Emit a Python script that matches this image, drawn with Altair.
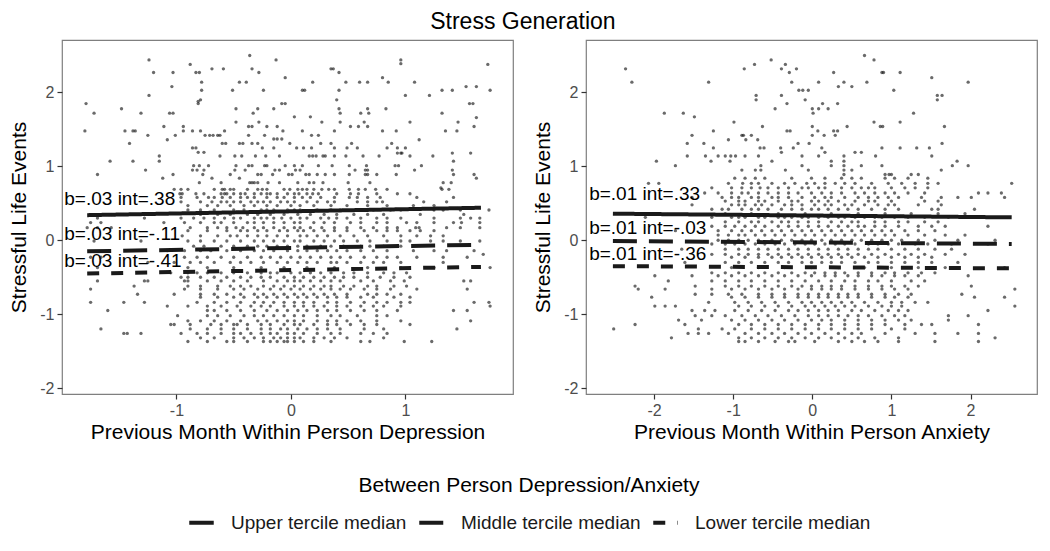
import altair as alt
import pandas as pd

FONT = "Liberation Sans"

# ---------------- Left panel: depression ----------------
# dense rows: (y level, x values)
dep_rows = [
    (0.69, [-1.02, -0.96, -0.9, -0.67, -0.6, -0.58, -0.53, -0.5, -0.38, -0.29, -0.25, -0.21, -0.06, -0.01, 0.06, 0.1, 0.14, 0.2, 0.27, 0.33, 0.38, 0.51, 0.59, 0.65, 0.74, 0.84, 1.32, 1.38]),
    (0.63, [-0.97, -0.95, -0.83, -0.76, -0.61, -0.58, -0.56, -0.5, -0.44, -0.4, -0.32, -0.26, -0.21, -0.18, -0.12, -0.03, 0.03, 0.07, 0.14, 0.19, 0.24, 0.4, 0.52, 0.59, 0.75, 0.93, 1.04]),
    (0.58, [-0.96, -0.82, -0.72, -0.67, -0.6, -0.53, -0.44, -0.38, -0.32, -0.21, -0.12, -0.06, 0.03, 0.1, 0.17, 0.26, 0.38, 0.51, 0.58, 0.67, 0.78, 1.1, 1.42]),
    (0.52, [-0.96, -0.79, -0.69, -0.61, -0.56, -0.5, -0.44, -0.35, -0.29, -0.24, -0.18, -0.09, -0.03, 0.03, 0.14, 0.23, 0.32, 0.38, 0.58, 0.67, 0.75, 0.8, 1.16, 1.36]),
    (0.47, [-0.9, -0.73, -0.64, -0.53, -0.41, -0.32, -0.21, -0.12, 0.0, 0.08, 0.2, 0.35, 0.49, 0.67, 0.84, 1.07, 1.25]),
    (0.41, [-0.9, -0.79, -0.67, -0.5, -0.41, -0.26, -0.21, -0.15, -0.03, 0.03, 0.08, 0.23, 0.35, 0.43, 0.61, 0.72, 0.87, 0.96, 1.25, 1.33, 1.48, 1.73]),
    (0.35, [-0.79, -0.64, -0.53, -0.38, -0.29, -0.18, -0.06, 0.06, 0.17, 0.29, 0.4, 0.55, 0.67, 0.81, 1.13, 1.51]),
    (0.30, [-1.69, -1.28, -0.96, -0.85, -0.76, -0.67, -0.58, -0.5, -0.44, -0.32, -0.26, -0.21, -0.15, -0.08, 0.0, 0.08, 0.14, 0.26, 0.33, 0.4, 0.49, 0.61, 0.75, 0.84, 0.96, 1.25, 1.48, 1.57, 1.65]),
    (0.24, [-1.75, -1.66, -1.11, -0.93, -0.79, -0.67, -0.61, -0.5, -0.38, -0.32, -0.24, -0.15, -0.06, 0.03, 0.08, 0.2, 0.29, 0.38, 0.52, 0.61, 0.75, 0.84, 1.01, 1.1, 1.25, 1.42, 1.49, 1.65]),
    (0.17, [-1.78, -1.69, -1.57, -0.88, -0.73, -0.64, -0.56, -0.48, -0.42, -0.32, -0.24, -0.15, -0.06, 0.03, 0.08, 0.17, 0.27, 0.38, 0.49, 0.61, 0.72, 0.84, 0.93, 1.09, 1.12, 1.36, 1.48, 1.65]),
    (0.13, [-0.9, -0.73, -0.56, -0.44, -0.38, -0.29, -0.21, -0.1, -0.03, 0.06, 0.11, 0.2, 0.29, 0.38, 0.49, 0.64, 0.75, 0.84, 0.93, 1.04, 1.13, 1.25]),
    (0.06, [-0.95, -0.79, -0.64, -0.53, -0.47, -0.38, -0.29, -0.21, -0.12, -0.03, 0.08, 0.14, 0.23, 0.32, 0.43, 0.55, 0.67, 0.81, 0.96, 1.1, 1.22, 1.33]),
    (-0.01, [-1.72, -1.31, -0.9, -0.79, -0.67, -0.56, -0.44, -0.32, -0.24, -0.15, -0.06, 0.03, 0.08, 0.2, 0.29, 0.38, 0.46, 0.58, 0.69, 0.84, 0.96, 1.04, 1.22, 1.33, 1.48, 1.65]),
    (-0.08, [-0.85, -0.76, -0.61, -0.5, -0.38, -0.29, -0.21, -0.12, -0.03, 0.06, 0.14, 0.26, 0.35, 0.46, 0.61, 0.69, 0.81, 0.96]),
    (-0.14, [-1.08, -0.93, -0.79, -0.7, -0.56, -0.44, -0.32, -0.24, -0.15, -0.03, 0.06, 0.14, 0.23, 0.32, 0.4, 0.49, 0.61, 0.72, 0.84, 1.07, 1.25, 1.36, 1.6]),
    (-0.19, [1.68]),
    (-0.23, [-1.75, -1.66, -0.93, -0.82, -0.73, -0.61, -0.5, -0.38, -0.26, -0.18, -0.09, 0.0, 0.08, 0.17, 0.26, 0.35, 0.43, 0.52, 0.64, 0.75, 0.84, 0.93, 1.1, 1.33, 1.54]),
    (-0.30, [-1.25, -1.02, -0.88, -0.79, -0.67, -0.53, -0.44, -0.35, -0.24, -0.12, -0.03, 0.06, 0.14, 0.23, 0.35, 0.4, 0.49, 0.61, 0.72, 0.81, 0.96, 1.33]),
    (-0.37, [-1.69, -0.9, -0.73, -0.5, -0.26, -0.06, 0.14, 0.38, 0.67, 0.96, 1.25, 1.74]),
    (-0.44, [-1.05, -0.9, -0.82, -0.73, -0.61, -0.5, -0.38, -0.26, -0.18, -0.12, 0.0, 0.08, 0.17, 0.26, 0.35, 0.46, 0.55, 0.67, 0.81, 0.9, 1.01]),
    (-0.50, [-0.96, -0.9, -0.79, -0.67, -0.56, -0.44, -0.35, -0.26, -0.18, -0.06, 0.03, 0.11, 0.2, 0.29, 0.38, 0.46, 0.55, 0.67, 0.78, 0.9, 1.04]),
    (-0.55, [-1.69, -1.28, -1.25, -0.93, -0.9, -0.73, -0.61, -0.5, -0.38, -0.24, -0.12, -0.03, 0.03, 0.08, 0.17, 0.26, 0.35, 0.43, 0.61, 0.72, 0.87, 0.99, 1.51, 1.57]),
    (-0.62, [-1.37, -0.9, -0.79, -0.64, -0.53, -0.44, -0.35, -0.24, -0.15, -0.06, 0.03, 0.11, 0.2, 0.29, 0.35, 0.46, 0.55, 0.67, 0.75, 0.9, 1.01]),
    (-0.66, [-1.75, -0.93, -0.79, -0.64, -0.5, -0.41, -0.29, -0.18, -0.09, 0.0, 0.08, 0.17, 0.26, 0.35, 0.43, 0.52, 0.64, 0.75, 0.87, 1.1, 1.54]),
    (-0.73, [-1.34, -1.02, -0.79, -0.67, -0.56, -0.44, -0.32, -0.24, -0.15, -0.06, 0.03, 0.11, 0.2, 0.29, 0.38, 0.49, 0.67, 0.75, 0.84, 0.96]),
    (-0.77, [-0.79, -0.64, -0.5, -0.41, -0.29, -0.21, -0.12, -0.03, 0.06, 0.14, 0.23, 0.32, 0.4, 0.49, 0.61, 0.72, 0.9, 1.04]),
    (-0.84, [-1.75, -1.46, -1.28, -0.82, -0.67, -0.56, -0.44, -0.32, -0.24, -0.15, -0.06, 0.03, 0.11, 0.2, 0.32, 0.4, 0.52, 0.64, 0.75, 0.84, 0.96, 1.04, 1.6, 1.73]),
    (-0.89, [-1.08, -0.9, -0.73, -0.61, -0.47, -0.35, -0.26, -0.18, -0.06, 0.03, 0.11, 0.2, 0.29, 0.4, 0.49, 0.61, 0.72, 0.81, 0.96, 1.74]),
    (-0.95, [-1.6, -0.73, -0.67, -0.56, -0.44, -0.32, -0.21, -0.12, -0.03, 0.06, 0.14, 0.23, 0.32, 0.4, 0.52, 0.64, 0.75, 0.93, 1.42, 1.54]),
    (-1.02, [-0.99, -0.73, -0.64, -0.53, -0.41, -0.32, -0.24, -0.15, -0.06, 0.03, 0.11, 0.23, 0.35, 0.43, 0.58, 0.75, 0.84]),
    (-1.09, [-0.9, -0.79, -0.67, -0.56, -0.44, -0.29, -0.21, -0.12, -0.03, 0.03, 0.11, 0.23, 0.32, 0.4, 0.49, 0.61, 0.75, 0.96, 1.57]),
    (-1.14, [-1.05, -1.02, -0.88, -0.7, -0.61, -0.5, -0.47, -0.38, -0.26, -0.18, -0.06, 0.03, 0.08, 0.2, 0.32, 0.4, 0.52, 0.64, 0.75, 1.04]),
    (-1.20, [-1.66, -0.88, -0.73, -0.61, -0.5, -0.38, -0.26, -0.18, -0.09, -0.03, 0.06, 0.14, 0.23, 0.32, 0.43, 0.64, 0.81, 1.45]),
    (-1.26, [-1.46, -1.43, -1.31, -0.96, -0.82, -0.73, -0.61, -0.5, -0.44, -0.35, -0.26, -0.18, -0.12, -0.03, 0.03, 0.11, 0.23, 0.35, 0.43, 0.61, 0.72, 0.84]),
    (-1.32, [-0.79, -0.67, -0.5, -0.41, -0.32, -0.24, -0.15, -0.09, -0.03, 0.03, 0.08, 0.2, 0.29, 0.38, 0.49, 0.81]),
    (-1.37, [-0.9, -0.73, -0.56, -0.5, -0.38, -0.24, -0.18, -0.12, -0.06, -0.03, 0.03, 0.11, 0.2, 0.35, 0.61, 0.69, 0.99, 1.23]),
]
# sparse upper points: (x, y)
dep_upper = [
    (1.72, 2.38), (0.96, 2.44), (0.96, 2.39), (-0.13, 2.44), (-0.36, 2.5), (-1.24, 2.44), (-0.88, 2.38),
    (-1.2, 2.27), (-1.03, 2.27), (-0.83, 2.27), (-0.8, 2.27), (-0.69, 2.32), (-0.59, 2.32), (-0.34, 2.32),
    (-0.28, 2.27), (0.35, 2.32), (0.37, 2.32), (0.42, 2.27), (-0.05, 2.2), (0.8, 2.2), (0.85, 2.14),
    (1.08, 2.14), (-0.78, 2.14), (-0.45, 2.14), (-0.39, 2.14), (0.19, 2.14), (0.48, 2.14), (0.6, 2.14),
    (0.67, 2.14), (-1.04, 2.08), (-0.24, 2.03), (0.1, 2.03), (0.12, 2.03), (0.42, 2.03), (1.32, 2.03),
    (1.41, 2.03), (1.53, 2.08), (1.62, 2.08), (1.74, 2.03), (1.0, 1.96), (1.21, 1.96), (-0.78, 2.03),
    (-0.51, 2.03), (-1.24, 1.96), (-0.79, 1.9), (-0.81, 1.88), (-1.79, 1.85), (-1.72, 1.72), (-1.48, 1.78),
    (-1.31, 1.72), (-1.06, 1.72), (-1.03, 1.72), (-0.81, 1.85), (-0.48, 1.78), (-0.33, 1.72), (-0.29, 1.78),
    (-0.15, 1.78), (-0.08, 1.85), (-0.05, 1.85), (0.4, 1.9), (0.42, 1.78), (0.43, 1.72), (0.67, 1.78),
    (0.83, 1.78), (1.56, 1.85), (1.59, 1.85), (1.62, 1.66), (1.6, 1.54), (0.61, 1.72), (0.68, 1.72),
    (0.03, 1.67), (0.17, 1.67), (0.27, 1.6), (0.43, 1.6), (0.64, 1.6), (1.04, 1.6), (1.32, 1.72), (1.46, 1.6),
    (-1.8, 1.48), (-1.45, 1.48), (-1.38, 1.48), (-1.36, 1.48), (-1.25, 1.42), (-1.11, 1.54), (-0.94, 1.54),
    (-0.94, 1.48), (-0.86, 1.48), (-0.79, 1.48), (-0.75, 1.42), (-0.71, 1.42), (-0.68, 1.42), (-0.64, 1.42),
    (-0.62, 1.42), (-0.58, 1.48), (-0.48, 1.6), (-0.37, 1.54), (-0.34, 1.54), (-0.21, 1.54), (-0.12, 1.54),
    (-0.07, 1.48), (-0.28, 1.6), (-0.37, 1.42), (-0.23, 1.42), (-0.15, 1.37), (-0.12, 1.37), (-0.08, 1.37),
    (0.1, 1.48), (0.18, 1.42), (0.24, 1.42), (0.38, 1.48), (0.52, 1.54), (0.59, 1.54), (0.67, 1.54),
    (0.8, 1.48), (0.92, 1.48), (1.12, 1.36), (1.35, 1.48), (1.45, 1.48), (-1.41, 1.31), (-1.08, 1.36),
    (-1.01, 1.42), (-0.86, 1.25), (-0.83, 1.25), (-0.6, 1.31), (-0.57, 1.31), (-0.45, 1.31), (-0.42, 1.31),
    (-0.34, 1.31), (-0.29, 1.31), (-0.25, 1.25), (-0.15, 1.25), (-0.01, 1.31), (0.05, 1.25), (0.11, 1.25),
    (0.18, 1.25), (0.26, 1.31), (0.35, 1.31), (0.38, 1.25), (0.49, 1.25), (0.53, 1.31), (0.58, 1.25),
    (0.84, 1.25), (0.88, 1.31), (0.93, 1.25), (0.96, 1.18), (1.0, 1.25), (0.93, 1.18), (0.97, 1.18),
    (1.41, 1.18), (1.57, 1.18), (-0.81, 1.19), (-0.76, 1.19), (-0.62, 1.14), (-0.49, 1.14), (-0.43, 1.14),
    (-0.31, 1.14), (-0.22, 1.14), (-0.1, 1.14), (0.16, 1.14), (0.19, 1.14), (0.22, 1.14), (0.28, 1.14),
    (0.3, 1.14), (0.38, 1.14), (0.48, 1.14), (0.63, 1.14), (0.77, 1.14), (1.04, 1.14), (1.24, 1.14),
    (-1.15, 1.14), (-1.15, 1.07), (-1.58, 1.07), (-1.38, 1.07), (1.42, 1.07), (-0.85, 1.01), (-0.8, 1.01),
    (-0.72, 1.01), (-0.48, 1.01), (-0.37, 1.01), (-0.34, 1.01), (-0.23, 1.01), (-0.21, 1.01), (-0.05, 1.01),
    (0.03, 1.01), (0.1, 1.01), (0.24, 1.01), (0.36, 1.01), (0.51, 1.01), (0.66, 1.01), (0.91, 1.01),
    (0.94, 1.01), (1.14, 1.01), (-1.27, 0.95), (-0.86, 0.95), (-0.82, 0.95), (-0.76, 0.95), (-0.49, 0.95),
    (-0.4, 0.95), (-0.14, 0.95), (-0.1, 0.95), (0.04, 0.95), (0.08, 0.95), (0.56, 0.95), (0.65, 0.95),
    (0.67, 0.95), (1.08, 0.95), (1.41, 0.95), (1.6, 0.89), (-1.69, 0.89), (-1.12, 0.84), (-1.03, 0.89),
    (-0.77, 0.89), (-0.69, 0.84), (-0.53, 0.89), (-0.45, 0.84), (-0.29, 0.89), (-0.26, 0.89), (-0.16, 0.89),
    (-0.02, 0.89), (0.01, 0.89), (0.13, 0.89), (0.16, 0.89), (0.23, 0.89), (0.3, 0.89), (0.38, 0.89),
    (0.51, 0.89), (0.65, 0.89), (0.67, 0.89), (0.75, 0.89), (0.92, 0.89), (1.62, 0.84), (1.42, 0.89),
    (1.4, 0.78), (1.31, 0.71), (-0.8, 0.78), (-0.61, 0.78), (-0.36, 0.78), (-0.34, 0.78), (-0.32, 0.78),
    (-0.29, 0.78), (-0.2, 0.78), (-0.1, 0.78), (0.06, 0.78), (0.16, 0.78), (0.2, 0.78), (0.28, 0.78),
    (0.5, 0.78), (0.69, 0.78), (1.33, 0.78),
]

# ---------------- Right panel: anxiety ----------------
anx_rows = [
    (0.84, [-0.98, -0.85, -0.72, -0.6, -0.26, -0.01, 0.16, 0.37, 0.5, 0.62, 0.92, 1.04, 1.21, 1.46]),
    (0.77, [-2.07, -1.94, -1.06, -0.88, -0.77, -0.68, -0.51, -0.35, -0.22, -0.07, 0.03, 0.16, 0.29, 0.41, 0.54, 0.75, 0.96, 1.13, 1.3, 1.46, 1.59, 2.52]),
    (0.71, [-1.27, -1.02, -0.89, -0.77, -0.66, -0.56, -0.43, -0.3, -0.13, -0.05, 0.08, 0.16, 0.37, 0.5, 0.62, 0.71, 0.79, 1.0, 1.17, 1.3, 1.46]),
    (0.64, [-1.36, -1.19, -1.02, -0.89, -0.81, -0.68, -0.56, -0.43, -0.3, -0.18, -0.01, 0.12, 0.24, 0.37, 0.54, 0.66, 0.79, 0.92, 1.04, 1.21, 1.42, 2.1, 2.22, 2.39]),
    (0.58, [-1.52, -1.14, -1.02, -0.93, -0.77, -0.68, -0.51, -0.43, -0.3, -0.13, 0.03, 0.16, 0.24, 0.41, 0.58, 0.71, 0.83, 0.96, 1.09, 1.38, 1.63, 1.84, 2.01, 2.43]),
    (0.53, [-1.1, -0.93, -0.85, -0.68, -0.6, -0.43, -0.26, -0.18, -0.01, 0.08, 0.2, 0.33, 0.54, 0.71, 0.79, 1.0, 1.42, 1.59]),
    (0.48, [-1.52, -1.02, -0.93, -0.85, -0.72, -0.64, -0.51, -0.35, -0.26, -0.13, 0.03, 0.16, 0.24, 0.41, 0.5, 0.66, 0.83, 0.96, 1.04, 1.34, 1.63]),
    (0.42, [-1.27, -1.14, -1.06, -0.89, -0.77, -0.68, -0.56, -0.39, -0.26, -0.13, -0.01, 0.08, 0.2, 0.33, 0.45, 0.58, 0.75, 0.92, 1.09, 1.51, 1.59, 2.05]),
    (0.36, [-1.1, -0.77, -0.43, -0.09, 0.24, 0.58, 0.92, 1.25, 1.59, 1.93]),
    (0.31, [-2.11, -1.27, -1.02, -0.93, -0.85, -0.68, -0.6, -0.43, -0.35, -0.26, -0.13, -0.05, 0.08, 0.2, 0.33, 0.41, 0.54, 0.66, 0.79, 0.88, 1.04, 1.21, 1.42, 1.72, 2.05]),
    (0.25, [-1.1, -0.93, -0.77, -0.68, -0.51, -0.39, -0.3, -0.18, -0.05, 0.08, 0.24, 0.37, 0.5, 0.58, 0.79, 0.92, 1.09, 1.21, 1.42, 1.59]),
    (0.19, [-1.27, -1.1, -0.98, -0.85, -0.72, -0.6, -0.43, -0.3, -0.18, -0.05, 0.08, 0.2, 0.33, 0.45, 0.58, 0.66, 0.79, 0.92, 1.09, 1.34, 1.51, 1.68, 2.22]),
    (0.13, [-1.73, -1.19, -1.02, -0.89, -0.77, -0.64, -0.51, -0.39, -0.26, -0.13, -0.01, 0.12, 0.24, 0.37, 0.5, 0.62, 0.75, 0.88, 1.0, 1.17, 1.34, 1.55]),
    (0.07, [-1.19, -1.06, -0.93, -0.85, -0.72, -0.6, -0.47, -0.35, -0.22, -0.09, 0.03, 0.16, 0.29, 0.41, 0.54, 0.66, 0.79, 0.92, 1.04, 1.21, 1.42, 1.68, 1.93]),
    (0.0, [-1.19, -1.06, -0.93, -0.81, -0.68, -0.51, -0.39, -0.26, -0.13, -0.01, 0.12, 0.24, 0.37, 0.5, 0.62, 0.75, 0.88, 1.0, 1.13, 1.34, 1.55, 1.84, 2.31]),
    (-0.05, [-1.27, -1.1, -0.98, -0.85, -0.72, -0.6, -0.47, -0.35, -0.22, -0.09, 0.03, 0.16, 0.29, 0.41, 0.54, 0.71, 0.83, 0.96, 1.09, 1.3, 1.46, 1.76, 2.22]),
    (-0.12, [-1.65, -1.1, -0.93, -0.81, -0.68, -0.56, -0.43, -0.3, -0.18, -0.05, 0.08, 0.2, 0.33, 0.45, 0.58, 0.71, 0.83, 1.0, 1.17, 1.34, 1.55, 1.76]),
    (-0.19, [-1.27, -1.1, -0.93, -0.81, -0.68, -0.56, -0.43, -0.3, -0.18, -0.05, 0.08, 0.2, 0.33, 0.45, 0.58, 0.75, 0.92, 1.09, 1.25, 1.42, 1.68, 1.93]),
    (-0.23, [-1.02, -0.85, -0.68, -0.51, -0.39, -0.26, -0.13, -0.01, 0.12, 0.24, 0.37, 0.5, 0.66, 0.83, 1.0, 1.17, 1.34, 1.51]),
    (-0.30, [-1.61, -1.1, -0.93, -0.77, -0.6, -0.43, -0.3, -0.13, -0.01, 0.12, 0.24, 0.37, 0.54, 0.71, 0.83, 1.0, 1.17, 1.34, 1.51, 1.84]),
    (-0.37, [-1.02, -0.68, -0.35, -0.01, 0.33, 0.66, 1.0, 1.34, 1.68, 2.43]),
    (-0.44, [-1.27, -1.1, -0.93, -0.77, -0.6, -0.43, -0.26, -0.09, 0.03, 0.16, 0.29, 0.41, 0.58, 0.75, 0.92, 1.04, 1.21, 1.38, 1.55]),
    (-0.48, [-1.99, -1.52, -1.19, -1.02, -0.85, -0.68, -0.51, -0.35, -0.18, -0.01, 0.16, 0.29, 0.45, 0.58, 0.75, 0.88, 1.04, 1.17, 1.34, 1.97]),
    (-0.55, [-1.82, -1.27, -1.1, -0.93, -0.77, -0.6, -0.43, -0.26, -0.09, 0.08, 0.24, 0.41, 0.54, 0.71, 0.83, 1.0, 1.25, 1.42]),
    (-0.62, [-2.24, -1.48, -1.1, -0.93, -0.77, -0.6, -0.43, -0.26, -0.13, -0.01, 0.12, 0.24, 0.37, 0.54, 0.71, 0.88, 1.0, 1.17, 1.34, 2.01]),
    (-0.66, [-2.2, -1.86, -1.27, -1.02, -0.85, -0.68, -0.51, -0.35, -0.18, -0.01, 0.12, 0.24, 0.37, 0.54, 0.71, 0.88, 1.04, 1.21, 2.56]),
    (-0.73, [-1.48, -1.27, -1.06, -0.89, -0.68, -0.51, -0.35, -0.18, -0.05, 0.08, 0.2, 0.33, 0.45, 0.58, 0.75, 0.92, 1.09, 1.25, 1.89]),
    (-0.77, [-2.03, -1.02, -0.85, -0.68, -0.51, -0.35, -0.18, -0.05, 0.08, 0.2, 0.33, 0.45, 0.58, 0.75, 0.92, 1.04, 1.21, 2.05, 2.43]),
    (-0.84, [-1.31, -0.98, -0.81, -0.64, -0.47, -0.3, -0.13, -0.01, 0.12, 0.24, 0.37, 0.5, 0.66, 0.83, 1.0, 1.13, 1.3, 1.46]),
    (-0.89, [-1.99, -1.86, -1.73, -0.93, -0.77, -0.6, -0.43, -0.26, -0.09, 0.03, 0.16, 0.29, 0.41, 0.54, 0.71, 0.88, 1.0, 1.13, 2.56]),
    (-0.95, [-1.52, -1.36, -1.23, -0.98, -0.81, -0.64, -0.47, -0.3, -0.18, -0.05, 0.08, 0.2, 0.33, 0.5, 0.62, 0.79, 0.96, 1.09, 1.21, 2.22]),
    (-1.02, [-1.48, -1.27, -1.1, -0.89, -0.72, -0.56, -0.39, -0.22, -0.05, 0.08, 0.2, 0.33, 0.45, 0.58, 0.71, 0.88, 1.04, 1.17, 1.72, 1.97]),
    (-1.08, [-1.69, -1.4, -1.02, -0.85, -0.68, -0.51, -0.35, -0.18, -0.01, 0.12, 0.24, 0.41, 0.58, 0.75, 0.92, 1.09, 1.25, 1.72]),
    (-1.14, [-2.24, -1.61, -0.93, -0.77, -0.6, -0.43, -0.26, -0.09, 0.08, 0.24, 0.41, 0.58, 0.75, 0.92, 1.17, 1.38, 1.51, 2.1]),
    (-1.20, [-2.51, -1.44, -1.14, -0.98, -0.77, -0.6, -0.43, -0.26, -0.09, 0.08, 0.24, 0.41, 0.58, 0.75, 1.0, 1.17]),
    (-1.26, [-1.57, -1.44, -1.31, -1.06, -0.85, -0.68, -0.51, -0.35, -0.18, -0.01, 0.16, 0.33, 0.5, 0.62, 0.92, 1.3, 1.55, 1.84, 2.1]),
    (-1.32, [-1.78, -0.93, -0.77, -0.6, -0.43, -0.26, -0.09, 0.08, 0.24, 0.41, 0.58, 0.79, 1.09, 2.31]),
    (-1.37, [-0.93, -0.85, -0.68, -0.47, -0.3, -0.22, 0.03, 0.33, 0.5, 0.66, 0.83, 1.09, 1.55, 2.1]),
]
anx_upper = [
    (0.66, 2.5), (0.78, 2.44), (-0.52, 2.44), (-0.34, 2.38), (-0.39, 2.32), (-0.29, 2.27), (-0.2, 2.32),
    (-0.86, 2.32), (-0.73, 2.38), (-2.36, 2.32), (-2.28, 2.14), (-1.31, 2.14), (-0.26, 2.14), (0.08, 2.14),
    (0.4, 2.14), (0.69, 2.14), (0.88, 2.27), (0.9, 2.27), (1.11, 2.27), (1.51, 2.2), (1.97, 2.14),
    (0.27, 2.27), (-0.17, 2.03), (-0.12, 2.03), (-0.05, 2.03), (-0.09, 1.9), (0.33, 2.08), (0.5, 2.08),
    (1.03, 2.03), (-0.39, 1.96), (-0.71, 1.96), (-0.71, 1.9), (1.58, 1.96), (1.64, 1.96), (1.58, 1.9),
    (-1.87, 1.72), (-1.63, 1.72), (-1.49, 1.67), (-0.47, 1.78), (-0.32, 1.85), (0.0, 1.78), (0.08, 1.78),
    (0.13, 1.85), (0.2, 1.78), (0.32, 1.85), (0.01, 1.72), (1.28, 1.72), (-0.99, 1.6), (-0.63, 1.54),
    (0.0, 1.54), (0.44, 1.54), (0.78, 1.6), (0.86, 1.54), (0.89, 1.54), (1.11, 1.6), (1.67, 1.54),
    (-1.25, 1.48), (-0.77, 1.42), (-0.89, 1.42), (-0.87, 1.42), (-0.32, 1.48), (-0.28, 1.48), (0.07, 1.48),
    (0.27, 1.48), (0.32, 1.48), (-1.52, 1.42), (-1.06, 1.36), (-0.84, 1.36), (-0.69, 1.36), (0.0, 1.42),
    (0.15, 1.42), (0.29, 1.42), (-1.58, 1.31), (-1.37, 1.31), (-0.66, 1.25), (-0.61, 1.25), (-0.4, 1.25),
    (-0.18, 1.31), (-0.04, 1.31), (0.12, 1.25), (0.88, 1.25), (1.11, 1.25), (1.32, 1.25), (1.48, 1.25),
    (1.64, 1.31), (-1.58, 1.14), (-1.25, 1.25), (-1.35, 1.14), (-1.19, 1.14), (-1.1, 1.14), (-1.03, 1.14),
    (-0.97, 1.14), (-0.85, 1.14), (-0.68, 1.14), (-0.39, 1.19), (-0.24, 1.25), (-0.13, 1.14), (0.08, 1.14),
    (0.16, 1.19), (0.4, 1.14), (0.4, 1.07), (0.54, 1.19), (0.62, 1.19), (0.8, 1.14), (1.51, 1.14),
    (1.83, 1.07), (1.77, 1.01), (1.97, 1.01), (-1.97, 1.07), (-1.73, 1.01), (-1.28, 1.07), (-1.04, 1.07),
    (-0.89, 0.95), (-0.72, 0.95), (-0.65, 1.01), (-0.65, 0.95), (-0.51, 1.07), (-0.34, 0.95), (-0.13, 1.01),
    (-0.05, 0.95), (0.24, 1.07), (0.24, 1.01), (0.4, 1.01), (0.4, 0.95), (0.4, 0.89), (0.5, 0.95),
    (0.62, 1.01), (0.88, 1.01), (1.0, 0.89), (1.25, 0.89), (1.34, 0.89), (0.92, 0.89), (0.97, 0.89),
    (1.63, 0.95),
]

# ---------------- Fitted lines and annotations ----------------
groups = ["Upper tercile median", "Middle tercile median", "Lower tercile median"]
dep_line_x = [-1.78, 1.66]
dep_line_y_start = [0.34, -0.15, -0.45]
dep_line_y_end = [0.44, -0.06, -0.36]
anx_line_x = [-2.52, 2.52]
anx_line_y_start = [0.36, -0.01, -0.35]
anx_line_y_end = [0.31, -0.05, -0.38]

dep_labels = ["b=.03 int=.38", "b=.03 int=-.11", "b=.03 int=-.41"]
dep_label_x = [-1.98, -1.98, -1.98]
dep_label_y = [0.56, 0.085, -0.28]
anx_labels = ["b=.01 int=.33", "b=.01 int=-.03", "b=.01 int=-.36"]
anx_label_x = [-2.82, -2.82, -2.82]
anx_label_y = [0.63, 0.16, -0.18]

dep_x_domain = [-2.0, 1.94]
anx_x_domain = [-2.86, 2.84]
y_domain = [-2.08, 2.71]
dep_x_ticks = [-1, 0, 1]
anx_x_ticks = [-2, -1, 0, 1, 2]
y_ticks = [-2, -1, 0, 1, 2]

dash_range = [[1, 0], [24, 12], [12, 12]]


def panel(rows, upper, lx, ly0, ly1, labels, tx, ty, xdom, xticks, xtitle):
    pts = [(x, y) for y, xs in rows for x in xs] + list(upper)
    pdf = pd.DataFrame(pts, columns=["x", "y"])
    lrecs = []
    for g, a, b in zip(groups, ly0, ly1):
        lrecs.append({"x": lx[0], "y": a, "g": g})
        lrecs.append({"x": lx[1], "y": b, "g": g})
    ldf = pd.DataFrame(lrecs)
    tdf = pd.DataFrame({"x": tx, "y": ty, "t": labels})

    xenc = alt.X("x:Q", scale=alt.Scale(domain=xdom, nice=False, zero=False),
                 axis=alt.Axis(values=xticks, title=xtitle, grid=False,
                               labelExpr="'' + datum.value"))
    yenc = alt.Y("y:Q", scale=alt.Scale(domain=y_domain, nice=False, zero=False),
                 axis=alt.Axis(values=y_ticks, title="Stressful Life Events", grid=False,
                               labelExpr="'' + datum.value"))

    points = alt.Chart(pdf).mark_circle(size=11, color="#1a1a1a", opacity=0.65).encode(x=xenc, y=yenc)
    lines = alt.Chart(ldf).mark_line(strokeWidth=4, color="#1a1a1a").encode(
        x=xenc, y=yenc,
        strokeDash=alt.StrokeDash(
            "g:N",
            scale=alt.Scale(domain=groups, range=dash_range),
            legend=alt.Legend(
                title="Between Person Depression/Anxiety",
                orient="none", legendX=125, legendY=435,
                direction="horizontal",
                titleAnchor="middle", titleFontSize=21, titleFontWeight="normal",
                titleFont=FONT, titleColor="#000000", titlePadding=12, titleLimit=2000,
                labelFontSize=19, labelFont=FONT, labelColor="#1a1a1a", labelLimit=2000,
                labelOffset=15, columnPadding=4,
                symbolType="stroke", symbolSize=600, symbolStrokeWidth=4,
                symbolStrokeColor="#1a1a1a",
            ),
        ),
    )
    text = alt.Chart(tdf).mark_text(align="left", baseline="middle", fontSize=19,
                                    font=FONT, color="#000000").encode(x=xenc, y=yenc, text="t:N")
    return alt.layer(points, lines, text).properties(width=451, height=354)


left = panel(dep_rows, dep_upper, dep_line_x, dep_line_y_start, dep_line_y_end,
             dep_labels, dep_label_x, dep_label_y, dep_x_domain, dep_x_ticks,
             "Previous Month Within Person Depression")
right = panel(anx_rows, anx_upper, anx_line_x, anx_line_y_start, anx_line_y_end,
              anx_labels, anx_label_x, anx_label_y, anx_x_domain, anx_x_ticks,
              "Previous Month Within Person Anxiety")

chart = alt.hconcat(left, right, spacing=18).resolve_scale(
    x="independent", y="independent", strokeDash="shared"
).resolve_legend(strokeDash="shared").properties(
    title=alt.TitleParams("Stress Generation", fontSize=23, font=FONT, fontWeight="normal",
                          anchor="middle", color="#000000", offset=5),
    padding={"left": 0, "top": 3, "right": 0, "bottom": 0},
).configure_view(
    stroke="#7f7f7f", strokeWidth=1.2
).configure_axis(
    domain=False, tickColor="#333333", tickSize=5, tickWidth=1.2,
    labelColor="#4d4d4d", labelFontSize=16, labelFont=FONT, labelPadding=3,
    titleColor="#000000", titleFontSize=21, titleFont=FONT, titleFontWeight="normal",
).configure_axisX(titlePadding=3).configure_axisY(titlePadding=10)

chart.save("out.html", embed_options={"renderer": "svg", "actions": False})
